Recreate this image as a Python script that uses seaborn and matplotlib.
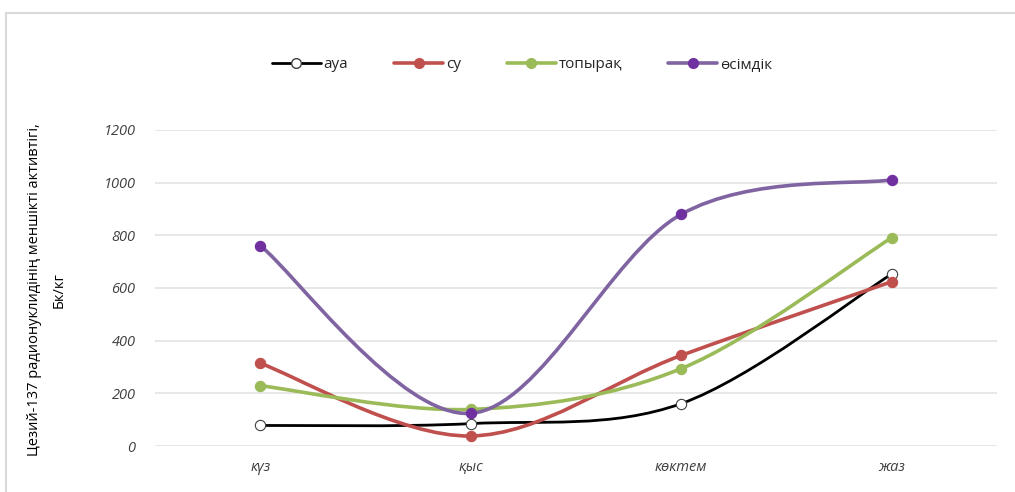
import numpy as np
import pandas as pd
import matplotlib
matplotlib.use("Agg")
import matplotlib.pyplot as plt
from matplotlib.path import Path
from matplotlib.patches import PathPatch
from matplotlib.lines import Line2D
import seaborn as sns

seasons = ["күз", "қыс", "көктем", "жаз"]
series_names = ["ауа", "су", "топырақ", "өсімдік"]
aua = [78, 85, 161, 653]
su = [314, 38, 344, 624]
topyraq = [229, 139, 294, 791]
osimdik = [761, 124, 880, 1011]
y_ticks = [0, 200, 400, 600, 800, 1000, 1200]

colors = {"ауа": "#000000", "су": "#C0504D", "топырақ": "#9BBB59", "өсімдік": "#8064A2"}
marker_face = {"ауа": "#FFFFFF", "су": "#C0504D", "топырақ": "#9BBB59", "өсімдік": "#7030A0"}

df = pd.DataFrame({
    "season": np.tile(seasons, 4),
    "x": np.tile(np.arange(len(seasons)), 4),
    "series": np.repeat(series_names, len(seasons)),
    "value": aua + su + topyraq + osimdik,
})

sns.set_theme(style="white")
plt.rcParams["font.family"] = ["Open Sans", "DejaVu Sans"]

fig = plt.figure(figsize=(10.15, 4.92), dpi=100)
ax = fig.add_axes([155 / 1015, 1 - 446 / 492, (997 - 155) / 1015, (446 - 130) / 492])


def smooth_path(xs, ys):
    """Smoothed line: cubic Bezier segments with Catmull-Rom control points."""
    pts = np.column_stack([xs, ys]).astype(float)
    n = len(pts)
    verts = [pts[0]]
    codes = [Path.MOVETO]
    for i in range(n - 1):
        p0 = pts[i - 1] if i > 0 else pts[i]
        p1 = pts[i]
        p2 = pts[i + 1]
        p3 = pts[i + 2] if i + 2 < n else pts[i + 1]
        c1 = p1 + (p2 - p0) / 6.0
        c2 = p2 - (p3 - p1) / 6.0
        verts += [c1, c2, p2]
        codes += [Path.CURVE4] * 3
    return Path(verts, codes)


widths = {"ауа": 2.0, "су": 2.6, "топырақ": 2.6, "өсімдік": 2.6}
for name in series_names:
    sub = df[df["series"] == name]
    patch = PathPatch(smooth_path(sub["x"].values, sub["value"].values),
                      facecolor="none", edgecolor=colors[name], lw=widths[name],
                      zorder=3, capstyle="round", joinstyle="round")
    ax.add_patch(patch)

for name in series_names:
    sub = df[df["series"] == name]
    sns.scatterplot(data=sub, x="x", y="value", ax=ax, s=55, color=marker_face[name],
                    edgecolor=("#404040" if name == "ауа" else marker_face[name]),
                    linewidth=0.8, zorder=4, legend=False)

ax.set_xlim(-0.5, 3.5)
ax.set_ylim(0, 1200)
ax.set_xticks(range(len(seasons)))
ax.set_xticklabels(seasons, fontstyle="italic", fontsize=10.5, color="#404040")
ax.set_yticks(y_ticks)
ax.set_yticklabels([str(v) for v in y_ticks], fontstyle="italic", fontsize=10.5, color="#404040")
ax.tick_params(axis="x", length=0, pad=10)
ax.tick_params(axis="y", length=0, pad=14)
ax.set_xlabel("")
ax.set_ylabel("")
ax.yaxis.grid(True, color="#E3E3E3", lw=1.2)
ax.set_axisbelow(True)
for s in ax.spines.values():
    s.set_visible(False)

fig.text(47 / 1015, 1 - 290 / 492,
         "Цезий-137 радионуклидінің меншікті активтігі,\nБк/кг",
         rotation=90, ha="center", va="center", fontsize=10.5, color="#000000",
         linespacing=1.9)

handles = []
for name in series_names:
    handles.append(Line2D([0], [0], color=colors[name], lw=widths[name],
                          marker="o", markersize=7, markerfacecolor=marker_face[name],
                          markeredgecolor=("#404040" if name == "ауа" else marker_face[name])))
fig.legend(handles, series_names, loc="center", bbox_to_anchor=(522 / 1015, 1 - 65 / 492),
           ncol=4, frameon=False, fontsize=11, handlelength=3.2, columnspacing=3.0,
           handletextpad=0.2)

# chart frame
fig.add_artist(Line2D([6 / 1015, 1.0], [1 - 13 / 492, 1 - 13 / 492], color="#D9D9D9", lw=1.5,
                      transform=fig.transFigure))
fig.add_artist(Line2D([6 / 1015, 6 / 1015], [1 - 13 / 492, 0.0], color="#D9D9D9", lw=1.5,
                      transform=fig.transFigure))

fig.savefig("out.png", dpi=100, facecolor="white")
